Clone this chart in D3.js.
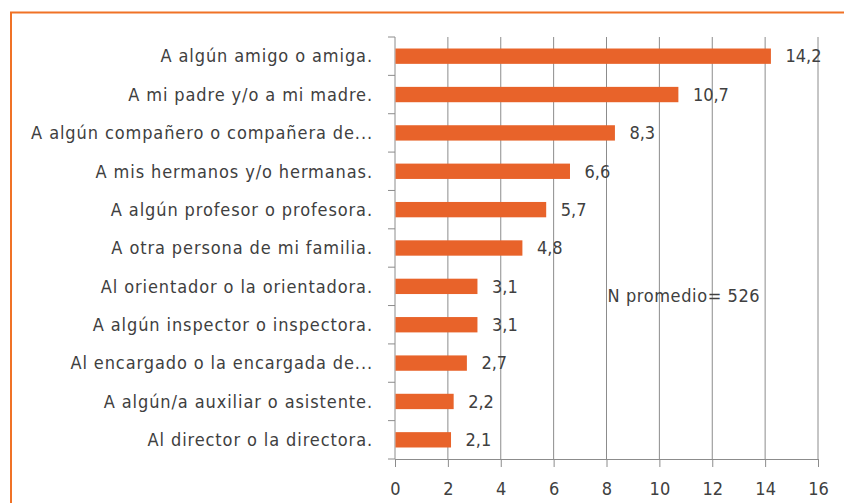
<!DOCTYPE html>
<html>
<head>
<meta charset="utf-8">
<script src="https://cdn.jsdelivr.net/npm/d3@7"></script>
<style>
  body { margin: 0; background: #fff; }
  text { font-family: "DejaVu Sans Condensed", "DejaVu Sans", sans-serif; font-stretch: condensed; fill: #404040; }
</style>
</head>
<body>
<div id="chart"></div>
<script>
// chart data
var categories = [
    "A algún amigo o amiga.",
    "A mi padre y/o a mi madre.",
    "A algún compañero o compañera de...",
    "A mis hermanos y/o hermanas.",
    "A algún profesor o profesora.",
    "A otra persona de mi familia.",
    "Al orientador o la orientadora.",
    "A algún inspector o inspectora.",
    "Al encargado o la encargada de...",
    "A algún/a auxiliar o asistente.",
    "Al director o la directora."
];
var values = [14.2, 10.7, 8.3, 6.6, 5.7, 4.8, 3.1, 3.1, 2.7, 2.2, 2.1];
var xTicks = [0, 2, 4, 6, 8, 10, 12, 14, 16];
var note = "N promedio= 526";

var W = 844, H = 503;
var margin = { top: 37, right: 26, bottom: 44, left: 395 };
var width = W - margin.left - margin.right;
var height = H - margin.top - margin.bottom;

var svg = d3.select("#chart").append("svg")
    .attr("width", W)
    .attr("height", H);

// orange frame (open on right and bottom)
svg.append("path")
    .attr("d", "M11,503 V12.5 H844")
    .attr("fill", "none")
    .attr("stroke", "#F07226")
    .attr("stroke-width", 2);

var g = svg.append("g")
    .attr("transform", "translate(" + margin.left + "," + margin.top + ")");

var x = d3.scaleLinear().domain([0, 16]).range([0, width]);
var y = d3.scaleBand().domain(categories).range([0, height]).paddingInner(0.6).paddingOuter(0.3);

// bottom axis
var xAxis = g.append("g")
    .attr("transform", "translate(0," + height + ")")
    .call(d3.axisBottom(x).tickValues(xTicks).tickSize(8).tickPadding(15).tickFormat(d3.format("d")));
xAxis.select(".domain").attr("stroke", "#8c8c8c");
xAxis.selectAll(".tick line").attr("stroke", "#8c8c8c");
xAxis.selectAll("text").attr("font-size", 18).attr("fill", "#404040").attr("font-family", null);

// vertical gridlines
g.append("g").selectAll("line")
    .data(xTicks.slice(1))
    .enter().append("line")
    .attr("x1", function(d) { return x(d); })
    .attr("x2", function(d) { return x(d); })
    .attr("y1", 0)
    .attr("y2", height)
    .attr("stroke", "#8c8c8c")
    .attr("stroke-width", 1);

// left axis with ticks at band boundaries
var bounds = d3.range(categories.length + 1).map(function(i) { return i * height / categories.length; });
g.append("line")
    .attr("x1", 0).attr("x2", 0).attr("y1", 0).attr("y2", height)
    .attr("stroke", "#8c8c8c");
g.append("g").selectAll("line")
    .data(bounds)
    .enter().append("line")
    .attr("x1", -7).attr("x2", 0)
    .attr("y1", function(d) { return d; })
    .attr("y2", function(d) { return d; })
    .attr("stroke", "#8c8c8c");

// category labels
g.append("g").selectAll("text")
    .data(categories)
    .enter().append("text")
    .attr("x", -22)
    .attr("y", function(d) { return y(d) + y.bandwidth() / 2; })
    .attr("dy", "0.35em")
    .attr("text-anchor", "end")
    .attr("font-size", 18)
    .attr("letter-spacing", 0.9)
    .text(function(d) { return d; });

// bars
g.append("g").selectAll("rect")
    .data(values)
    .enter().append("rect")
    .attr("x", 0.5)
    .attr("y", function(d, i) { return y(categories[i]); })
    .attr("width", function(d) { return x(d); })
    .attr("height", y.bandwidth())
    .attr("fill", "#E8632A");

// value labels
var fmt = function(d) { return d3.format(".1f")(d).replace(".", ","); };
g.append("g").selectAll("text")
    .data(values)
    .enter().append("text")
    .attr("x", function(d) { return x(d) + 15; })
    .attr("y", function(d, i) { return y(categories[i]) + y.bandwidth() / 2; })
    .attr("dy", "0.35em")
    .attr("font-size", 18)
    .text(fmt);

// note
g.append("text")
    .attr("x", x(8) + 1)
    .attr("y", 259)
    .attr("dy", "0.35em")
    .attr("font-size", 18)
    .attr("letter-spacing", 0.6)
    .text(note);
</script>
</body>
</html>
